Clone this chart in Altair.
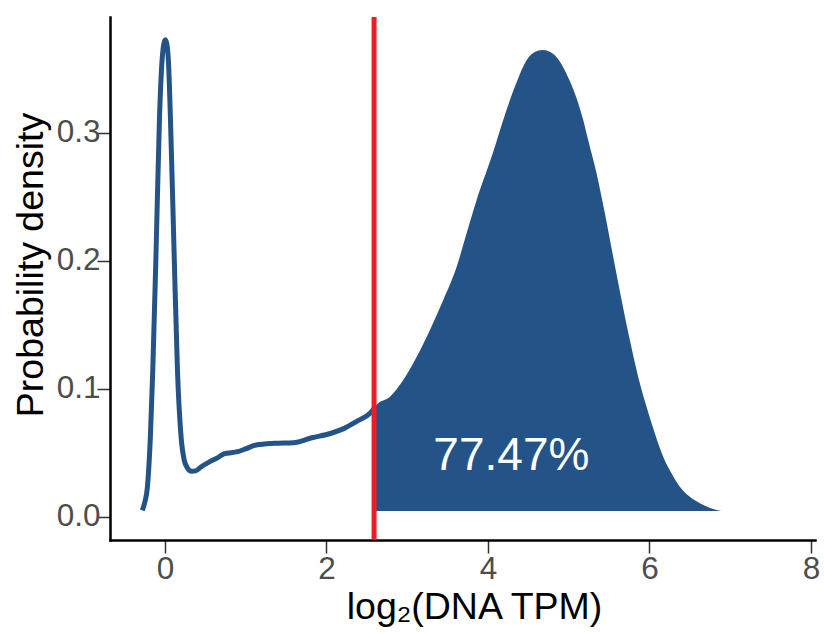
import altair as alt
import pandas as pd

# Density curve (x = log2 DNA TPM, y = density)
curve_x = [-0.28, -0.25, -0.217, -0.18, -0.15, -0.11, -0.068, -0.04, -0.015, 0.005,
           0.025, 0.045, 0.069, 0.114, 0.155, 0.2, 0.24, 0.28, 0.33, 0.38,
           0.45, 0.557, 0.65, 0.729, 0.9, 1.0, 1.13, 1.36, 1.59, 1.82,
           2.05, 2.22, 2.39, 2.54, 2.59, 2.62, 2.787, 2.952, 3.118, 3.282,
           3.447, 3.613, 3.736, 3.86, 4.06, 4.23, 4.35, 4.48, 4.58, 4.67,
           4.76, 4.85, 5.01, 5.18, 5.241, 5.345, 5.448, 5.551, 5.655, 5.757,
           5.86, 5.964, 6.067, 6.17, 6.273, 6.376, 6.5, 6.624, 6.75, 6.89]
curve_y = [0.005, 0.011, 0.023, 0.0625, 0.115, 0.206, 0.31, 0.352, 0.369, 0.3727,
           0.369, 0.354, 0.31, 0.206, 0.115, 0.0625, 0.044, 0.038, 0.0355, 0.0358,
           0.039, 0.043, 0.046, 0.049, 0.0508, 0.053, 0.056, 0.0573, 0.0578, 0.0617,
           0.065, 0.069, 0.075, 0.0808, 0.0845, 0.0873, 0.0938, 0.1068, 0.125, 0.1459,
           0.1693, 0.1953, 0.2214, 0.2474, 0.284, 0.3177, 0.3386, 0.3568, 0.3630, 0.3646,
           0.3635, 0.359, 0.341, 0.31, 0.2943, 0.2683, 0.237, 0.2031, 0.1693, 0.138,
           0.1094, 0.0859, 0.0651, 0.0469, 0.0339, 0.0234, 0.0156, 0.0105, 0.0068, 0.0045]

cutoff = [2.59]
fill_base = 0.0045
label_text = ["77.47%"]
label_x = [4.29]
label_y = [0.0365]
x_ticks = [0, 2, 4, 6, 8]
y_ticks = [0.0, 0.1, 0.2, 0.3]

BLUE = "#245387"
RED = "#EC1D25"

df = pd.DataFrame({"x": curve_x, "y": curve_y})
line_df = df[df["x"] <= cutoff[0]]
fill_df = df[df["x"] >= cutoff[0]].assign(base=fill_base)
cut_df = pd.DataFrame({"x": cutoff})
lab_df = pd.DataFrame({"x": label_x, "y": label_y, "t": label_text})

xscale = alt.Scale(domain=[-0.68, 8.05], nice=False, zero=False)
yscale = alt.Scale(domain=[-0.0182, 0.3904], nice=False, zero=False)

common_axis = dict(
    grid=False, domainColor="black", domainWidth=2.5, domainCap="square",
    tickColor="#333333", tickWidth=1.5, tickSize=13,
    labelFont="Liberation Sans", labelFontSize=31.5, labelColor="#4D4D4D",
    titleFont="Liberation Sans", titleFontSize=37.5, titleColor="black",
    titleFontWeight="normal",
)
xaxis = alt.Axis(values=x_ticks, format="d", title="log\u2082(DNA TPM)",
                 labelPadding=0, titleX=364, titleY=78, titleAlign="center",
                 titleBaseline="alphabetic", **common_axis)
yaxis = alt.Axis(values=y_ticks, format=".1f", title="Probability density",
                 labelPadding=-3, titleAngle=270, titleX=-67.5, titleY=247.5,
                 titleAlign="center", titleBaseline="alphabetic", **common_axis)

X = alt.X("x:Q", scale=xscale, axis=xaxis)
Y = alt.Y("y:Q", scale=yscale, axis=yaxis)

area = alt.Chart(fill_df).mark_area(color=BLUE, interpolate="monotone", opacity=1).encode(
    x=X, y=Y, y2="base:Q"
)
line = alt.Chart(line_df).mark_line(color=BLUE, strokeWidth=5, interpolate="monotone",
                                    strokeCap="butt").encode(x=X, y=Y)
rule = alt.Chart(cut_df).mark_rule(color=RED, strokeWidth=5).encode(x=X)
text = alt.Chart(lab_df).mark_text(color="white", font="Liberation Sans", fontSize=46,
                                   align="center", baseline="alphabetic").encode(
    x=X, y=Y, text="t:N"
)

chart = alt.layer(area, line, rule, text).properties(
    width=705, height=523,
    autosize=alt.AutoSizeParams(type="none"),
    padding={"left": 110, "top": 17, "right": 9, "bottom": 94},
    background="white",
).configure_view(stroke=None)

chart.save("out.html", embed_options={"renderer": "svg", "actions": False})
